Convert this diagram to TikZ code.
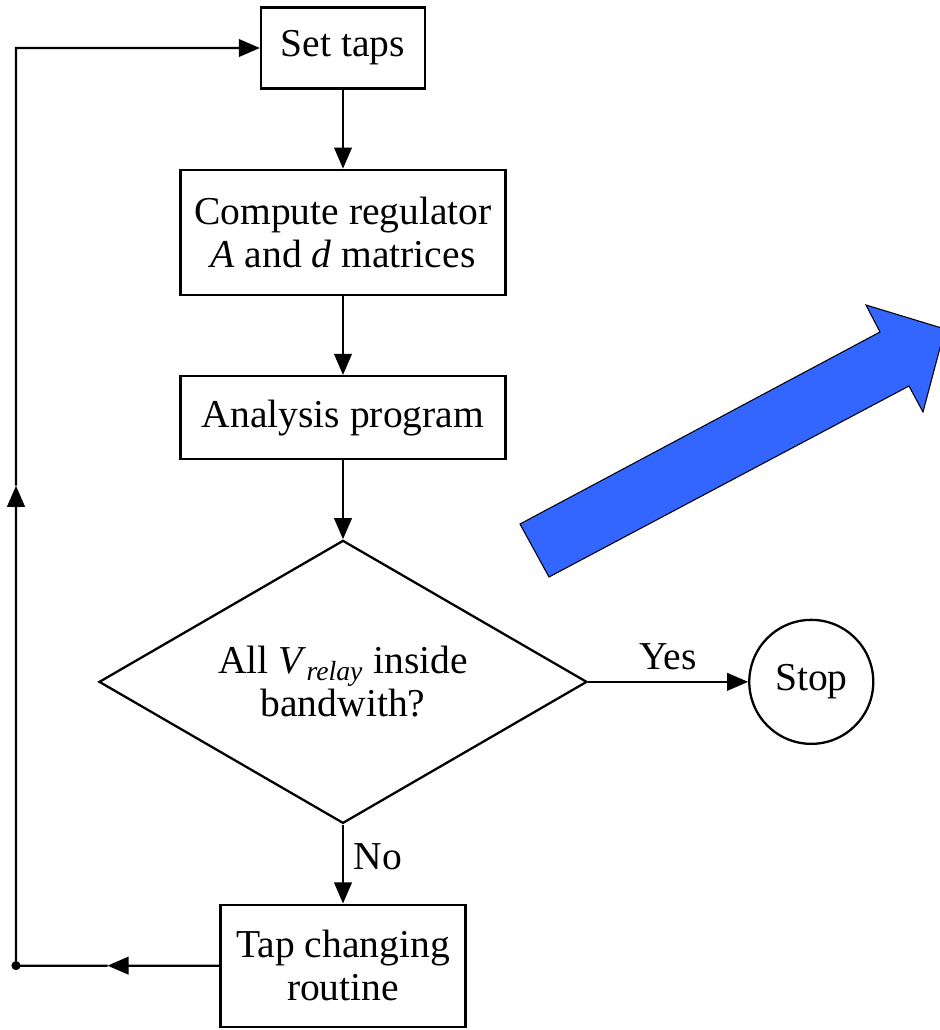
\documentclass[tikz,border=0pt]{standalone}
\usepackage{fontspec}
\setmainfont{Liberation Serif}
\usetikzlibrary{arrows.meta,positioning,calc,shapes.geometric}

\begin{document}
\begin{tikzpicture}[node distance=1.58cm,
            every node/.style={font=\fontsize{22.5}{24.5}\selectfont},
            procbox/.style={draw, line width=1.3pt, align=center, inner sep=0pt},
            decision/.style={draw, line width=1.3pt, diamond, aspect=1.72, align=center, inner sep=0pt,
                             minimum width=9.76cm, minimum height=5.66cm},
            terminal/.style={draw, line width=1.3pt, circle, minimum size=2.48cm, inner sep=0pt},
            flow/.style={draw, line width=1.3pt, -{Triangle[length=12pt,width=10pt]}},
            bigarrow/.style={draw=black, line width=0.6pt, fill=arrowblue}]
        \definecolor{arrowblue}{RGB}{51,102,255}
        \useasboundingbox (0,0) rectangle (18.78,-20.6);
        % flow chart
        \node[procbox, minimum width=3.28cm, minimum height=1.62cm] (settaps) at (6.86,-0.96) {Set taps};
        \node[procbox, minimum width=6.5cm, minimum height=2.5cm, below=of settaps] (compute)
            {Compute regulator\\\textit{A} and \textit{d} matrices};
        \node[procbox, minimum width=6.5cm, minimum height=1.66cm, below=of compute] (analysis) {Analysis program};
        \node[decision, below=of analysis] (check)
            {All \textit{V}\textsubscript{\textit{relay}} inside\\bandwith?};
        \node[terminal, right=3.2cm of check] (stop) {Stop};
        \node[procbox, minimum width=4.9cm, minimum height=2.44cm, below=of check] (tapchange)
            {Tap changing\\routine};
        \path[flow] (settaps) -- (compute);
        \path[flow] (compute) -- (analysis);
        \path[flow] (analysis) -- (check);
        \path[flow] (check) -- node[midway, above=3pt] (yeslabel) {Yes} (stop);
        \path[flow] (check) -- node[midway, right=2pt, yshift=4pt] (nolabel) {No} (tapchange);
        % feedback loop
        \coordinate (leftx) at (0.32,0);
        \coordinate (loopbot) at (leftx |- tapchange.west);
        \coordinate (looptop) at (leftx |- settaps.west);
        \coordinate (midbot) at ($(tapchange.west)!0.55!(loopbot)$);
        \coordinate (midleft) at ($(loopbot)!0.523!(looptop)$);
        \path[flow] (tapchange.west) -- (midbot);
        \draw[line width=1.3pt] (midbot) -- (loopbot);
        \fill (loopbot) circle (2.6pt);
        \path[flow] (loopbot) -- (midleft);
        \path[flow] (midleft) -- (looptop) -- (settaps.west);
        % blue block arrow
        \path[bigarrow] (10.4,-10.48) -- (10.98,-11.54) -- (18.18,-7.72) -- (18.46,-8.24)
            -- (18.9,-6.58) -- (17.32,-6.1) -- (17.6,-6.64) -- cycle;
\end{tikzpicture}
\end{document}
